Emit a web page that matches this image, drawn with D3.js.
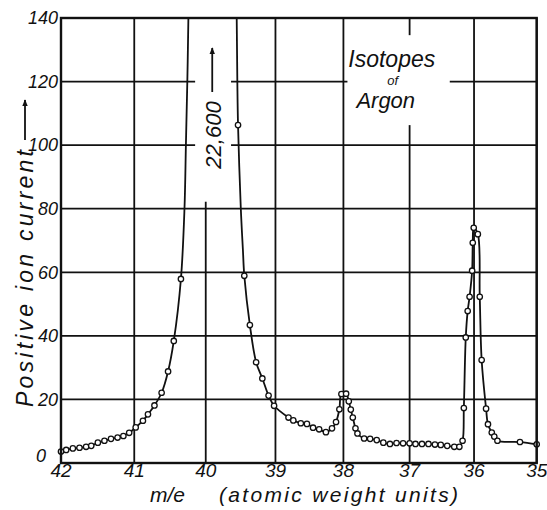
<!DOCTYPE html>
<html>
<head>
<meta charset="utf-8">
<script src="https://cdn.jsdelivr.net/npm/d3@7/dist/d3.min.js"></script>
<style>
  html, body { margin: 0; padding: 0; background: #fff; }
  svg { display: block; }
  text { font-family: "Liberation Sans", "DejaVu Sans", sans-serif; font-style: italic; fill: #111; }
</style>
</head>
<body>
<div id="chart"></div>
<script>
// m/e of each reading (x axis runs from 42 down to 35)
const mass = [
  42.00, 41.93, 41.84, 41.75, 41.66, 41.59, 41.50, 41.41, 41.32, 41.23,
  41.15, 41.07, 40.98, 40.88, 40.81, 40.72, 40.62, 40.53, 40.45, 40.35,
  39.54, 39.45, 39.37, 39.28, 39.19, 39.10, 39.02, 38.81, 38.74, 38.63,
  38.54, 38.45, 38.36, 38.26, 38.17, 38.11, 38.06, 38.03, 37.96, 37.92,
  37.89, 37.86, 37.82, 37.79, 37.69, 37.60, 37.50, 37.40, 37.30, 37.20,
  37.10, 37.00, 36.91, 36.81, 36.71, 36.61, 36.52, 36.42, 36.31, 36.23,
  36.18, 36.16, 36.13, 36.10, 36.07, 36.03, 36.02, 36.005, 35.94, 35.91,
  35.88, 35.81, 35.78, 35.72, 35.68, 35.63, 35.27, 35.00
];
// positive ion current of each reading
const current = [
  3.6, 4.1, 4.6, 4.8, 5.1, 5.4, 6.4, 7.0, 7.6, 8.0,
  8.5, 9.5, 11.2, 13.3, 15.3, 18.1, 22.1, 28.8, 38.4, 57.9,
  106.3, 58.9, 43.4, 31.7, 26.6, 21.2, 18.0, 14.3, 13.4, 12.5,
  12.3, 11.1, 10.6, 9.7, 10.9, 12.9, 16.9, 21.7, 21.8, 19.4,
  16.8, 14.3, 10.9, 9.3, 7.7, 7.6, 7.2, 6.4, 6.0, 6.3,
  6.2, 6.2, 6.0, 6.0, 6.0, 5.8, 5.7, 5.4, 5.1, 5.1,
  7.0, 17.3, 39.5, 47.8, 52.3, 60.5, 69.3, 74.0, 72.0, 52.3,
  32.4, 17.1, 12.2, 9.6, 8.3, 7.0, 6.6, 5.9
];
// flanks of the Ar40 peak, traced line only (it runs off the top)
const flankMass = [40.30, 40.28, 40.26, 40.245, 40.23, 39.57, 39.559, 39.55, 39.50, 39.47];
const flankCurrent = [80, 100, 120, 140, 170, 170, 140, 120, 80, 67];
const peakValue = 22600;

const massTicks = [42, 41, 40, 39, 38, 37, 36, 35];
const currentTicks = [0, 20, 40, 60, 80, 100, 120, 140];

const width = 547, height = 510;
const margin = {top: 18, right: 10.3, bottom: 47, left: 61};

const svg = d3.select("#chart").append("svg")
  .attr("width", width)
  .attr("height", height);

// spacing of the mass lines grows with m, so use a square scale
const x = d3.scalePow().exponent(2)
  .domain([42, 35])
  .range([margin.left, width - margin.right]);
const y = d3.scaleLinear()
  .domain([0, 140])
  .range([height - margin.bottom, margin.top]);

svg.append("clipPath").attr("id", "plot")
  .append("rect")
  .attr("x", margin.left).attr("y", margin.top)
  .attr("width", width - margin.left - margin.right)
  .attr("height", height - margin.top - margin.bottom);

// grid
const grid = svg.append("g").attr("stroke", "#111").attr("stroke-width", 1.8);
grid.selectAll("line.v").data(massTicks).enter().append("line")
  .attr("x1", d => x(d)).attr("x2", d => x(d))
  .attr("y1", y(0)).attr("y2", y(140));
grid.selectAll("line.h").data(currentTicks).enter().append("line")
  .attr("y1", d => y(d)).attr("y2", d => y(d))
  .attr("x1", x(42)).attr("x2", x(35));

// the grid is left open behind the lettering
const gaps = [
  {m0: 40.15, m1: 39.64, c0: 82.2, c1: 140},
  {m0: 37.94, m1: 36.38, c0: 106.3, c1: 134.6}
];
svg.selectAll("rect.gap").data(gaps).enter().append("rect")
  .attr("fill", "#fff")
  .attr("x", d => x(d.m0)).attr("y", d => y(d.c1))
  .attr("width", d => x(d.m1) - x(d.m0))
  .attr("height", d => y(d.c0) - y(d.c1));

// curve
const readings = mass.map((m, i) => ({m: m, c: current[i]}));
const trace = readings.concat(flankMass.map((m, i) => ({m: m, c: flankCurrent[i]})))
  .sort((a, b) => b.m - a.m);

const line = d3.line()
  .x(d => x(d.m))
  .y(d => y(d.c))
  .curve(d3.curveCatmullRom.alpha(0.5));

svg.append("path")
  .datum(trace)
  .attr("clip-path", "url(#plot)")
  .attr("fill", "none")
  .attr("stroke", "#111")
  .attr("stroke-width", 1.8)
  .attr("d", line);

svg.selectAll("circle").data(readings).enter().append("circle")
  .attr("cx", d => x(d.m))
  .attr("cy", d => y(d.c))
  .attr("r", 2.7)
  .attr("fill", "#fff")
  .attr("stroke", "#111")
  .attr("stroke-width", 1.3);

// frame
svg.append("rect")
  .attr("x", x(42)).attr("y", y(140))
  .attr("width", x(35) - x(42)).attr("height", y(0) - y(140))
  .attr("fill", "none").attr("stroke", "#111").attr("stroke-width", 2.4);

// tick labels
svg.selectAll("text.xt").data(massTicks).enter().append("text")
  .attr("x", d => x(d)).attr("y", y(0) + 14)
  .attr("text-anchor", "middle")
  .style("font-size", "19px")
  .text(d => d);
svg.selectAll("text.yt").data(currentTicks).enter().append("text")
  .attr("x", d => d === 0 ? margin.left - 25 : margin.left - 3)
  .attr("y", d => d === 0 ? y(d) - 1 : y(d))
  .attr("dy", d => d === 0 ? 0 : "0.35em")
  .attr("text-anchor", d => d === 0 ? "start" : "end")
  .style("font-size", "18px")
  .text(d => d);

// axis titles
svg.append("text")
  .attr("x", 150).attr("y", 502)
  .style("font-size", "21px")
  .text("m/e");
svg.append("text")
  .attr("x", 219).attr("y", 502)
  .attr("textLength", 239).attr("lengthAdjust", "spacing")
  .style("font-size", "21px")
  .text("(atomic weight units)");

svg.append("defs").append("marker")
  .attr("id", "head")
  .attr("viewBox", "0 0 10 10")
  .attr("refX", 9).attr("refY", 5)
  .attr("markerWidth", 4).attr("markerHeight", 6)
  .attr("orient", "auto")
  .append("path").attr("d", "M0,1 L10,5 L0,9 Z").attr("fill", "#111");

svg.append("text")
  .attr("transform", "translate(33,407) rotate(-90)")
  .attr("textLength", 257).attr("lengthAdjust", "spacing")
  .style("font-size", "23px")
  .text("Positive ion current");
svg.append("line")
  .attr("x1", 25).attr("x2", 25).attr("y1", 140).attr("y2", 100)
  .attr("stroke", "#111").attr("stroke-width", 1.8)
  .attr("marker-end", "url(#head)");

// peak annotation
svg.append("text")
  .attr("transform", "translate(" + (x(40) + 15) + "," + 135 + ") rotate(-90)")
  .attr("text-anchor", "middle")
  .style("font-size", "22px")
  .text(d3.format(",")(peakValue));
svg.append("line")
  .attr("x1", x(40) + 6.5).attr("x2", x(40) + 6.5).attr("y1", 92).attr("y2", 48)
  .attr("stroke", "#111").attr("stroke-width", 1.8)
  .attr("marker-end", "url(#head)");

// title
const title = svg.append("g").attr("transform", "translate(" + x(37.5) + ",0)");
title.append("text").attr("x", 15).attr("y", 67).attr("text-anchor", "middle")
  .style("font-size", "23px").text("Isotopes");
title.append("text").attr("x", 16).attr("y", 85).attr("text-anchor", "middle")
  .style("font-size", "13px").text("of");
title.append("text").attr("x", 9).attr("y", 108).attr("text-anchor", "middle")
  .style("font-size", "22px").text("Argon");
</script>
</body>
</html>
